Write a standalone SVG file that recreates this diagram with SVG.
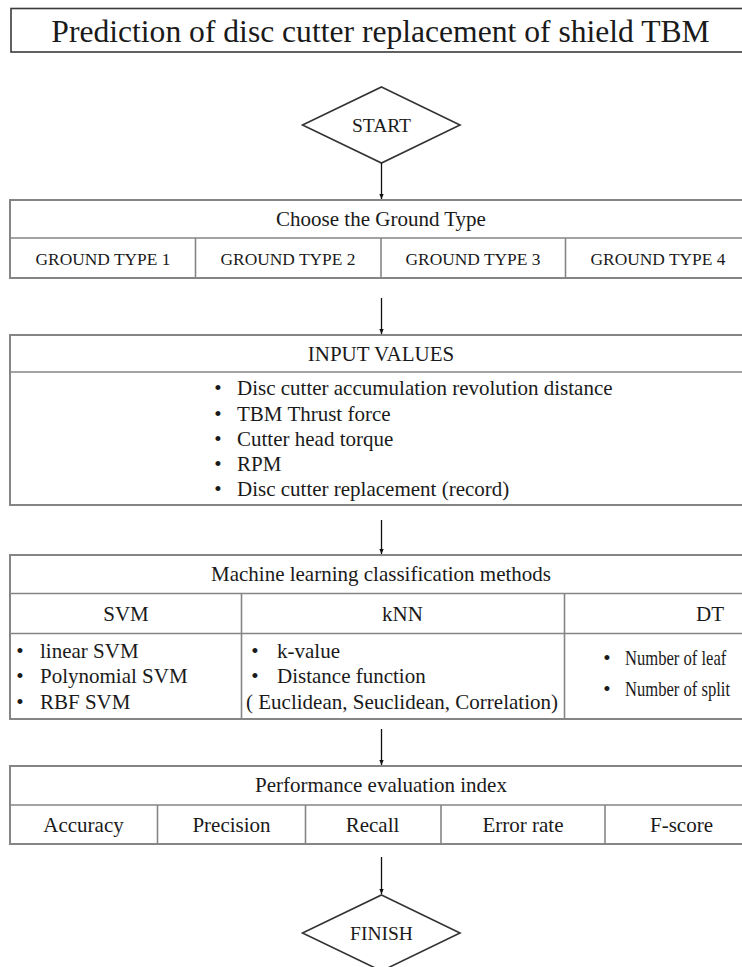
<svg xmlns="http://www.w3.org/2000/svg" width="742" height="967" viewBox="0 0 742 967">
<defs>
<marker id="arr" markerUnits="userSpaceOnUse" markerWidth="6" markerHeight="6" refX="5" refY="3" orient="auto">
<path d="M0,0.8 L5,3 L0,5.2 z" fill="#111"/>
</marker>
<style>
text{font-family:"Liberation Serif","Times New Roman",serif;fill:#1a1a1a}
.t{font-size:31.6px;text-anchor:middle}
.h{font-size:21px;text-anchor:middle}
.g{font-size:17.4px;text-anchor:middle}
.b{font-size:21px}
.bm{font-size:21px;text-anchor:middle}
.box{fill:#fff;stroke:#858585;stroke-width:2}
.ln{stroke:#858585;stroke-width:1.6;fill:none}
.dia{fill:#fff;stroke:#333;stroke-width:1.6}
.con{stroke:#111;stroke-width:1.3;fill:none;marker-end:url(#arr)}
</style>
</defs>
<rect width="742" height="967" fill="#fff"/>

<g id="title">
<rect x="11" y="8.5" width="760" height="43.5" fill="#fff" stroke="#3a3a3a" stroke-width="1.6"/>
<text class="t" x="380.5" y="41.5">Prediction of disc cutter replacement of shield TBM</text>
</g>

<g id="start">
<polygon class="dia" points="381.5,87 460,125 381.5,163 302.5,125"/>
<text class="h" x="381.5" y="131.5" style="font-size:19.5px">START</text>
</g>

<g id="ground">
<rect class="box" x="10" y="200" width="760" height="78"/>
<line class="ln" x1="10" y1="238" x2="770" y2="238"/>
<line class="ln" x1="195.5" y1="238" x2="195.5" y2="278"/>
<line class="ln" x1="381" y1="238" x2="381" y2="278"/>
<line class="ln" x1="565.5" y1="238" x2="565.5" y2="278"/>
<text class="h" x="381" y="226">Choose the Ground Type</text>
<text class="g" x="103" y="264.5">GROUND TYPE 1</text>
<text class="g" x="288" y="264.5">GROUND TYPE 2</text>
<text class="g" x="473" y="264.5">GROUND TYPE 3</text>
<text class="g" x="658" y="264.5">GROUND TYPE 4</text>
</g>

<g id="input">
<rect class="box" x="10" y="335" width="760" height="170"/>
<line class="ln" x1="10" y1="372" x2="770" y2="372"/>
<text class="h" x="381" y="361">INPUT VALUES</text>
<text class="bm" x="218" y="395">•</text><text class="b" x="237" y="395">Disc cutter accumulation revolution distance</text>
<text class="bm" x="218" y="421">•</text><text class="b" x="237" y="421">TBM Thrust force</text>
<text class="bm" x="218" y="446">•</text><text class="b" x="237" y="446">Cutter head torque</text>
<text class="bm" x="218" y="471">•</text><text class="b" x="237" y="471">RPM</text>
<text class="bm" x="218" y="496">•</text><text class="b" x="237" y="496">Disc cutter replacement (record)</text>
</g>

<g id="ml">
<rect class="box" x="10" y="555" width="760" height="164"/>
<line class="ln" x1="10" y1="593.5" x2="770" y2="593.5"/>
<line class="ln" x1="10" y1="633.5" x2="770" y2="633.5"/>
<line class="ln" x1="241.5" y1="593.5" x2="241.5" y2="719"/>
<line class="ln" x1="564.5" y1="593.5" x2="564.5" y2="719"/>
<text class="h" x="381" y="581">Machine learning classification methods</text>
<text class="h" x="126" y="620.5">SVM</text>
<text class="h" x="402.5" y="620.5">kNN</text>
<text class="h" x="710" y="620.5">DT</text>
<text class="bm" x="20" y="657.5">•</text><text class="b" x="40" y="657.5">linear SVM</text>
<text class="bm" x="20" y="683">•</text><text class="b" x="40" y="683">Polynomial SVM</text>
<text class="bm" x="20" y="709">•</text><text class="b" x="40" y="709">RBF SVM</text>
<text class="bm" x="255" y="657.5">•</text><text class="b" x="277" y="657.5">k-value</text>
<text class="bm" x="255" y="683">•</text><text class="b" x="277" y="683">Distance function</text>
<text class="b" x="246" y="709">( Euclidean, Seuclidean, Correlation)</text>
<text class="bm" x="607" y="665">•</text><text class="b" transform="translate(625,665) scale(0.83,1)" style="font-size:20px">Number of leaf</text>
<text class="bm" x="607" y="696">•</text><text class="b" transform="translate(625,696) scale(0.83,1)" style="font-size:20px">Number of split</text>
</g>

<g id="perf">
<rect class="box" x="10" y="766" width="760" height="78"/>
<line class="ln" x1="10" y1="805" x2="770" y2="805"/>
<line class="ln" x1="157.5" y1="805" x2="157.5" y2="844"/>
<line class="ln" x1="305.5" y1="805" x2="305.5" y2="844"/>
<line class="ln" x1="441" y1="805" x2="441" y2="844"/>
<line class="ln" x1="605" y1="805" x2="605" y2="844"/>
<text class="h" x="381" y="792">Performance evaluation index</text>
<text class="bm" x="83.5" y="832">Accuracy</text>
<text class="bm" x="231.5" y="832">Precision</text>
<text class="bm" x="372.5" y="832">Recall</text>
<text class="bm" x="523" y="832">Error rate</text>
<text class="bm" x="681.5" y="832">F-score</text>
</g>

<g id="finish">
<polygon class="dia" points="381.5,895 460,933 381.5,971 302.5,933"/>
<text class="h" x="381.5" y="940" style="font-size:19.5px">FINISH</text>
</g>

<g id="connectors">
<line class="con" x1="381.5" y1="163" x2="381.5" y2="199"/>
<line class="con" x1="381.5" y1="298" x2="381.5" y2="334"/>
<line class="con" x1="381.5" y1="520" x2="381.5" y2="554"/>
<line class="con" x1="381.5" y1="729" x2="381.5" y2="765"/>
<line class="con" x1="381.5" y1="857" x2="381.5" y2="894"/>
</g>
</svg>
